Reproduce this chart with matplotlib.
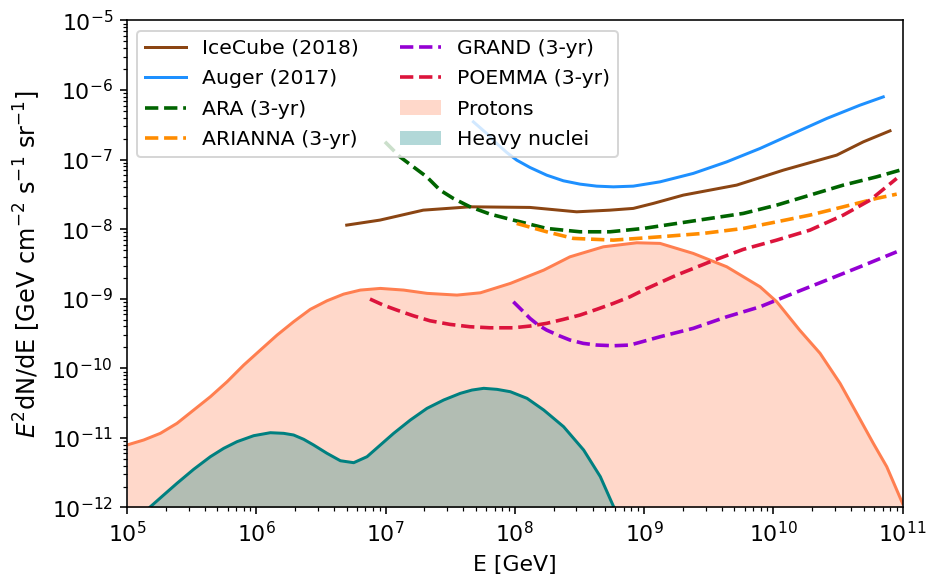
import numpy as np
import matplotlib
matplotlib.use("Agg")
import matplotlib.pyplot as plt

# values, as log10(E / GeV) and log10(E^2 dN/dE)
icecube_logE = [6.700, 6.957, 7.292, 7.654, 8.118, 8.479, 8.737, 8.917, 9.072,
                9.304, 9.717, 10.078, 10.491, 10.697, 10.903]
icecube_logF = [-7.941, -7.869, -7.726, -7.678, -7.687, -7.750, -7.726, -7.701, -7.629,
                -7.510, -7.366, -7.151, -6.935, -6.744, -6.586]

auger_logE = [7.680, 7.783, 7.860, 7.938, 8.015, 8.118, 8.247, 8.376, 8.505, 8.634,
              8.763, 8.917, 9.124, 9.381, 9.640, 9.898, 10.155, 10.414, 10.671, 10.851]
auger_logF = [-6.457, -6.624, -6.768, -6.897, -7.007, -7.113, -7.223, -7.304, -7.352, -7.381,
              -7.391, -7.381, -7.319, -7.198, -7.032, -6.839, -6.624, -6.408, -6.217, -6.098]

ara_logE = [6.996, 7.112, 7.215, 7.319, 7.422, 7.525, 7.654, 7.809, 7.989, 8.247,
            8.505, 8.737, 8.995, 9.253, 9.511, 9.768, 10.026, 10.284, 10.542, 10.800, 10.981]
ara_logF = [-6.744, -6.960, -7.103, -7.247, -7.438, -7.558, -7.678, -7.783, -7.869, -7.989,
            -8.037, -8.037, -7.989, -7.917, -7.845, -7.773, -7.654, -7.510, -7.366, -7.247, -7.151]

arianna_logE = [8.015, 8.247, 8.453, 8.763, 9.124, 9.459, 9.768, 10.026, 10.284,
                10.542, 10.800, 10.955]
arianna_logF = [-7.917, -8.037, -8.132, -8.157, -8.109, -8.060, -7.989, -7.894, -7.797,
                -7.678, -7.557, -7.496]

grand_logE = [7.989, 8.054, 8.118, 8.182, 8.247, 8.350, 8.427, 8.530, 8.634, 8.763,
              8.892, 9.124, 9.381, 9.640, 9.898, 10.155, 10.414, 10.671, 10.955]
grand_logF = [-9.043, -9.162, -9.282, -9.378, -9.450, -9.536, -9.593, -9.641, -9.665, -9.675,
              -9.665, -9.546, -9.425, -9.259, -9.115, -8.922, -8.731, -8.540, -8.325]

poemma_logE = [6.880, 6.983, 7.087, 7.215, 7.344, 7.499, 7.654, 7.809, 7.989, 8.118,
               8.247, 8.376, 8.505, 8.634, 8.763, 8.892, 8.995, 9.253, 9.511, 9.768,
               10.026, 10.284, 10.542, 10.749, 10.955]
poemma_logF = [-9.004, -9.091, -9.162, -9.244, -9.316, -9.368, -9.402, -9.417, -9.417, -9.392,
               -9.353, -9.296, -9.234, -9.152, -9.066, -8.971, -8.875, -8.659, -8.468, -8.290,
               -8.157, -8.013, -7.797, -7.582, -7.270]

protons_logE = [5.000, 5.129, 5.258, 5.387, 5.516, 5.645, 5.774, 5.903, 6.032, 6.161,
                6.289, 6.418, 6.547, 6.676, 6.805, 6.960, 7.141, 7.321, 7.553, 7.734,
                7.966, 8.224, 8.427, 8.685, 8.944, 9.124, 9.381, 9.640, 9.898, 10.027,
                10.204, 10.362, 10.517, 10.646, 10.774, 10.878, 11.000]
protons_logF = [-11.102, -11.030, -10.934, -10.790, -10.599, -10.408, -10.193, -9.953, -9.737, -9.522,
                -9.330, -9.152, -9.029, -8.933, -8.875, -8.851, -8.875, -8.922, -8.947, -8.914,
                -8.779, -8.588, -8.397, -8.253, -8.195, -8.204, -8.348, -8.540, -8.828, -9.043,
                -9.450, -9.784, -10.216, -10.647, -11.078, -11.414, -11.940]

heavy_logE = [5.181, 5.284, 5.387, 5.516, 5.645, 5.748, 5.851, 5.980, 6.109, 6.212,
              6.289, 6.367, 6.444, 6.547, 6.651, 6.754, 6.857, 6.960, 7.063, 7.192,
              7.321, 7.450, 7.579, 7.669, 7.760, 7.863, 7.966, 8.095, 8.224, 8.378,
              8.533, 8.662, 8.765]
heavy_logF = [-11.989, -11.820, -11.652, -11.451, -11.270, -11.150, -11.054, -10.968, -10.925, -10.934,
              -10.958, -11.020, -11.102, -11.221, -11.328, -11.356, -11.270, -11.102, -10.934, -10.743,
              -10.575, -10.455, -10.359, -10.312, -10.287, -10.302, -10.336, -10.431, -10.599, -10.839,
              -11.174, -11.557, -11.989]

experiments = [
    ("IceCube (2018)", icecube_logE, icecube_logF, "saddlebrown", "-"),
    ("Auger (2017)", auger_logE, auger_logF, "dodgerblue", "-"),
    ("ARA (3-yr)", ara_logE, ara_logF, "darkgreen", "--"),
    ("ARIANNA (3-yr)", arianna_logE, arianna_logF, "darkorange", "--"),
    ("GRAND (3-yr)", grand_logE, grand_logF, "darkviolet", "--"),
    ("POEMMA (3-yr)", poemma_logE, poemma_logF, "crimson", "--"),
]


def pw(v):
    return 10.0 ** np.asarray(v)


DPI = 144
fig = plt.figure(figsize=(929 / DPI, 579 / DPI), dpi=DPI)
ax = fig.add_axes([0.1367, 0.1235, 0.9715 - 0.1367, 0.9646 - 0.1235])

# model fluxes
Ep, Fp = pw(protons_logE), pw(protons_logF)
p_fill = ax.fill_between(Ep, Fp, 1e-13, color="coral", alpha=0.3, linewidth=0,
                         label="Protons")
ax.plot(Ep, Fp, color="coral", lw=1.5)

Eh, Fh = pw(heavy_logE), pw(heavy_logF)
h_fill = ax.fill_between(Eh, Fh, 1e-13, color="teal", alpha=0.3, linewidth=0,
                         label="Heavy nuclei")
ax.plot(Eh, Fh, color="teal", lw=1.5)

# sensitivities
handles = []
for name, le, lf, col, ls in experiments:
    lw = 1.5 if ls == "-" else 1.8
    (ln,) = ax.plot(pw(le), pw(lf), color=col, ls=ls, lw=lw, label=name)
    handles.append(ln)
handles += [p_fill, h_fill]

ax.set_xscale("log")
ax.set_yscale("log")
ax.set_xlim(1e5, 1e11)
ax.set_ylim(1e-12, 1e-5)
ax.tick_params(labelsize=11)
ax.set_xlabel("E [GeV]", fontsize=11)
ax.set_ylabel(r"$E^2$dN/dE [GeV cm$^{-2}$ s$^{-1}$ sr$^{-1}$]", fontsize=12)

ax.legend(handles=handles, loc="upper left", ncol=2, fontsize=10.2,
          labelspacing=0.56)

fig.savefig("out.png", dpi=DPI)
